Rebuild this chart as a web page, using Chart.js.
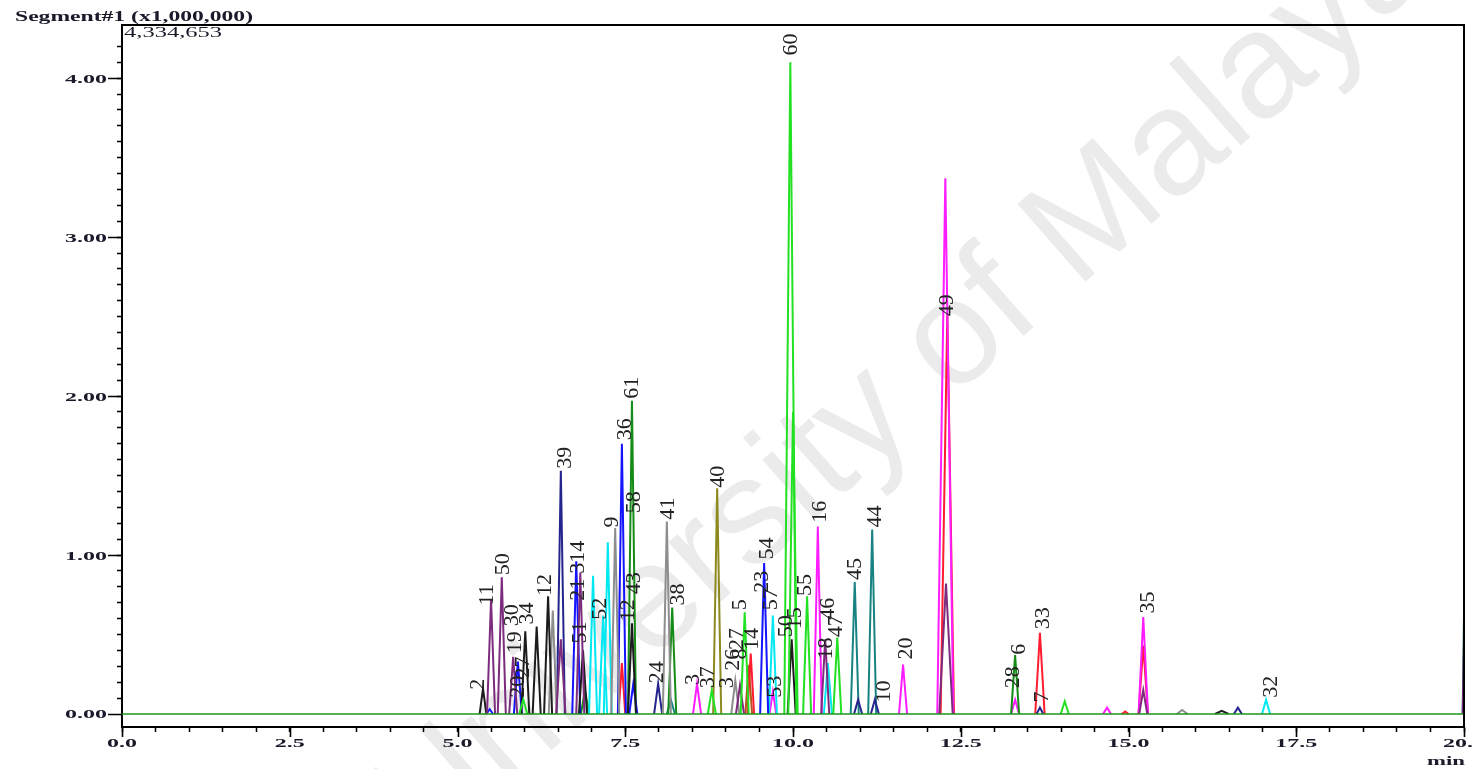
<!DOCTYPE html>
<html>
<head>
<meta charset="utf-8">
<script src="https://cdn.jsdelivr.net/npm/chart.js@4.4.1/dist/chart.umd.min.js"></script>
<style>
  html, body { margin: 0; padding: 0; background: #fff; overflow: hidden; }
</style>
</head>
<body>
<canvas id="chrom" width="1473" height="769"></canvas>
<script>
// Segment#1 TIC overlay, intensities in x1,000,000 counts, time in min.
// Each trace: [retention time, height, half base width]

const xTickValues = [0, 2.5, 5, 7.5, 10, 12.5, 15, 17.5, 20];
const xTickLabels = ['0.0', '2.5', '5.0', '7.5', '10.0', '12.5', '15.0', '17.5', '20.0'];
const yTickValues = [0, 1, 2, 3, 4];
const yTickLabels = ['0.00', '1.00', '2.00', '3.00', '4.00'];
const yMaxValue = 4.334653;
const yMinValue = -0.082;

const baselinePoints = [[0, 0], [20, 0]];

const blackPeaks = [[5.38, 0.16, 0.05], [6.01, 0.52, 0.06], [6.18, 0.55, 0.06], [6.35, 0.74, 0.06], [6.87, 0.40, 0.06], [7.60, 0.57, 0.06], [9.98, 0.47, 0.06], [16.39, 0.02, 0.1]];
const grayPeaks = [[6.42, 0.65, 0.06], [7.35, 1.17, 0.06], [8.12, 1.21, 0.06], [9.14, 0.21, 0.06], [15.80, 0.025, 0.08]];
const purplePeaks = [[5.50, 0.72, 0.06], [5.66, 0.86, 0.06], [5.83, 0.36, 0.06], [6.54, 0.47, 0.07], [6.83, 0.89, 0.06], [9.21, 0.18, 0.06], [10.48, 0.47, 0.06], [12.28, 0.82, 0.1], [15.22, 0.15, 0.06], [20.0, 0.45, 0.02]];
const bluePeaks = [[5.48, 0.03, 0.05], [5.90, 0.33, 0.06], [6.77, 0.96, 0.06], [7.45, 1.70, 0.06], [7.62, 0.19, 0.06], [9.57, 0.95, 0.06]];
const navyPeaks = [[6.54, 1.53, 0.06], [7.99, 0.19, 0.06], [10.97, 0.09, 0.06], [11.22, 0.09, 0.06], [13.68, 0.04, 0.05], [16.63, 0.04, 0.06]];
const cyanPeaks = [[7.02, 0.87, 0.06], [7.17, 0.62, 0.06], [7.24, 1.08, 0.06], [9.70, 0.62, 0.06], [10.52, 0.32, 0.06], [17.05, 0.09, 0.06]];
const darkGreenPeaks = [[6.90, 0.15, 0.06], [7.60, 1.97, 0.06], [8.20, 0.67, 0.06], [13.31, 0.37, 0.06]];
const greenPeaks = [[5.98, 0.09, 0.06], [8.79, 0.15, 0.06], [9.28, 0.64, 0.06], [9.96, 4.10, 0.09], [10.00, 1.90, 0.07], [10.21, 0.74, 0.06], [10.66, 0.48, 0.06], [14.05, 0.08, 0.06]];
const olivePeaks = [[8.87, 1.42, 0.06]];
const magentaPeaks = [[8.57, 0.19, 0.06], [9.70, 0.14, 0.05], [10.37, 1.18, 0.06], [11.64, 0.31, 0.06], [12.27, 3.37, 0.12], [13.31, 0.09, 0.06], [14.68, 0.04, 0.06], [15.22, 0.61, 0.07]];
const redPeaks = [[7.45, 0.32, 0.05], [9.37, 0.38, 0.05], [12.30, 2.52, 0.1], [13.68, 0.51, 0.07], [14.95, 0.015, 0.05], [15.22, 0.43, 0.07]];
const tealPeaks = [[8.18, 0.09, 0.06], [10.92, 0.83, 0.06], [11.18, 1.16, 0.06], [20.0, 0.62, 0.02]];
const brownPeaks = [[9.34, 0.31, 0.05]];

// peak numbers: text, time, height of label foot
const labelTexts = ['2', '11', '50', '30', '19', '34', '20', '27', '12', '39', '314', '21', '51', '52', '9', '36', '61', '58', '43', '12', '24', '41', '38', '3', '37', '40', '3', '26', '8', '27', '5', '14', '54', '23', '57', '53', '60', '50', '15', '55', '16', '46', '47', '18', '45', '44', '10', '20', '49', '28', '6', '7', '33', '35', '32'];
const labelTimes = [5.31, 5.45, 5.68, 5.81, 5.86, 6.04, 5.90, 5.98, 6.30, 6.60, 6.80, 6.80, 6.83, 7.12, 7.30, 7.50, 7.60, 7.63, 7.63, 7.54, 7.97, 8.14, 8.29, 8.52, 8.73, 8.88, 9.02, 9.11, 9.21, 9.17, 9.21, 9.39, 9.61, 9.54, 9.67, 9.73, 9.97, 9.90, 10.04, 10.18, 10.40, 10.52, 10.64, 10.49, 10.92, 11.22, 11.36, 11.68, 12.30, 13.28, 13.37, 13.71, 13.73, 15.29, 17.12];
const labelHeights = [0.14, 0.67, 0.86, 0.54, 0.37, 0.55, 0.09, 0.21, 0.73, 1.53, 0.87, 0.70, 0.43, 0.58, 1.16, 1.71, 1.97, 1.25, 0.74, 0.57, 0.18, 1.21, 0.67, 0.17, 0.15, 1.41, 0.15, 0.26, 0.33, 0.39, 0.64, 0.39, 0.96, 0.75, 0.64, 0.09, 4.13, 0.47, 0.52, 0.73, 1.19, 0.58, 0.47, 0.33, 0.83, 1.16, 0.06, 0.33, 2.49, 0.15, 0.36, 0.06, 0.52, 0.62, 0.09];

const traces = [
  { peaks: greenPeaks, color: '#22e022' },
  { peaks: purplePeaks, color: '#7d2c7d' },
  { peaks: blackPeaks, color: '#1c1c1c' },
  { peaks: grayPeaks, color: '#8e8e8e' },
  { peaks: navyPeaks, color: '#24248c' },
  { peaks: bluePeaks, color: '#1414ff' },
  { peaks: cyanPeaks, color: '#00e8f2' },
  { peaks: darkGreenPeaks, color: '#158c15' },
  { peaks: olivePeaks, color: '#8c8a1e' },
  { peaks: magentaPeaks, color: '#ff1cff' },
  { peaks: redPeaks, color: '#ff1c30' },
  { peaks: tealPeaks, color: '#188282' },
  { peaks: brownPeaks, color: '#b4561e' },
];

const SERIF = '"Liberation Serif", "DejaVu Serif", serif';
const TEXT_COLOR = '#1a1a2a';

const datasets = [{
  data: baselinePoints.map(p => ({ x: p[0], y: p[1] })),
  borderColor: '#1d961d',
  borderWidth: 1.5,
}];
traces.forEach(tr => {
  tr.peaks.forEach(([t, h, w]) => {
    datasets.push({
      data: [{ x: t - w, y: 0 }, { x: t, y: h }, { x: t + w, y: 0 }],
      borderColor: tr.color,
      borderWidth: 2,
    });
  });
});

function stretchText(ctx, text, x, y, font, opts) {
  ctx.save();
  ctx.font = font;
  const raw = ctx.measureText(text).width;
  const sx = opts.width ? opts.width / raw : (opts.sx || 1);
  const w = raw * sx;
  let left = x;
  if (opts.align === 'center') left = x - w / 2;
  else if (opts.align === 'right') left = x - w;
  ctx.translate(left, y);
  ctx.scale(sx, 1);
  ctx.textAlign = 'left';
  ctx.textBaseline = 'alphabetic';
  ctx.fillStyle = TEXT_COLOR;
  ctx.fillText(text, 0, 0);
  ctx.restore();
}

const decor = {
  id: 'decor',
  beforeDraw(chart) {
    const ctx = chart.ctx;
    ctx.save();
    ctx.fillStyle = '#fff';
    ctx.fillRect(0, 0, chart.width, chart.height);
    // watermark
    ctx.translate(905, 385);
    ctx.rotate(-0.72);
    ctx.font = '150px "Liberation Sans", Arial, sans-serif';
    ctx.fillStyle = 'rgba(0,0,0,0.08)';
    ctx.textAlign = 'center';
    ctx.textBaseline = 'middle';
    ctx.fillText('University of Malaya', 0, 0);
    ctx.restore();
  },
  afterDraw(chart) {
    const ctx = chart.ctx;
    const { left, right, top, bottom } = chart.chartArea;
    const xs = chart.scales.x, ys = chart.scales.y;
    ctx.save();
    ctx.strokeStyle = '#000';
    ctx.lineWidth = 2;
    ctx.beginPath();
    ctx.moveTo(left - 1, top);
    ctx.lineTo(right, top);
    ctx.lineTo(right, bottom + 1);
    ctx.stroke();

    // major ticks
    ctx.lineWidth = 1.6;
    ctx.beginPath();
    xTickValues.forEach(v => {
      const px = Math.round(xs.getPixelForValue(v)) + 0.5;
      ctx.moveTo(px, bottom);
      ctx.lineTo(px, bottom + 10);
    });
    yTickValues.forEach(v => {
      const py = Math.round(ys.getPixelForValue(v)) + 0.5;
      ctx.moveTo(left, py);
      ctx.lineTo(left - 14, py);
    });
    ctx.stroke();
    ctx.restore();

    const tickFont = 'bold 13px ' + SERIF;
    ctx.save();
    ctx.font = tickFont;
    const tickSx = 30 / ctx.measureText('0.0').width;
    ctx.restore();
    xTickValues.forEach((v, i) => {
      stretchText(ctx, xTickLabels[i], xs.getPixelForValue(v), bottom + 20, tickFont, { sx: tickSx, align: 'center' });
    });
    yTickValues.forEach((v, i) => {
      stretchText(ctx, yTickLabels[i], left - 15, ys.getPixelForValue(v) + 4.5, tickFont, { sx: tickSx, align: 'right' });
    });

    stretchText(ctx, 'Segment#1 (x1,000,000)', 15, 21, 'bold 14px ' + SERIF, { width: 238 });
    stretchText(ctx, '4,334,653', 124, 37, '14px ' + SERIF, { width: 98 });
    stretchText(ctx, 'min', right + 1, 765, 'bold 13px ' + SERIF, { width: 38, align: 'right' });

    // peak numbers, rotated
    ctx.save();
    ctx.font = '22px ' + SERIF;
    ctx.fillStyle = '#222';
    ctx.textAlign = 'left';
    ctx.textBaseline = 'middle';
    labelTexts.forEach((txt, i) => {
      const px = xs.getPixelForValue(labelTimes[i]);
      const py = ys.getPixelForValue(labelHeights[i]);
      ctx.save();
      ctx.translate(px, py - 2);
      ctx.rotate(-Math.PI / 2);
      ctx.fillText(txt, 0, 0);
      ctx.restore();
    });
    ctx.restore();
  },
};

new Chart(document.getElementById('chrom'), {
  type: 'line',
  data: { datasets },
  options: {
    responsive: false,
    animation: false,
    devicePixelRatio: 1,
    parsing: false,
    layout: { padding: { top: 25, right: 9, left: 0, bottom: 0 }, autoPadding: false },
    elements: { point: { radius: 0 }, line: { tension: 0, fill: false } },
    plugins: { legend: { display: false }, tooltip: { enabled: false } },
    scales: {
      x: {
        type: 'linear',
        min: 0,
        max: 20,
        ticks: { display: false, stepSize: 0.5 },
        grid: { drawOnChartArea: false, drawTicks: true, tickLength: 5, tickColor: '#000', tickWidth: 1.5 },
        border: { display: true, color: '#000', width: 2 },
        afterFit: s => { s.height = 42; },
      },
      y: {
        type: 'linear',
        min: yMinValue,
        max: yMaxValue,
        ticks: { display: false, stepSize: 0.1 },
        afterBuildTicks: s => {
          s.ticks = s.ticks.filter(t => t.value > -1e-6 && Math.abs(t.value * 10 - Math.round(t.value * 10)) < 1e-6);
        },
        grid: { drawOnChartArea: false, drawTicks: true, tickLength: 5, tickColor: '#000', tickWidth: 1.5 },
        border: { display: true, color: '#000', width: 2 },
        afterFit: s => { s.width = 122; },
      },
    },
  },
  plugins: [decor],
});
</script>
</body>
</html>
